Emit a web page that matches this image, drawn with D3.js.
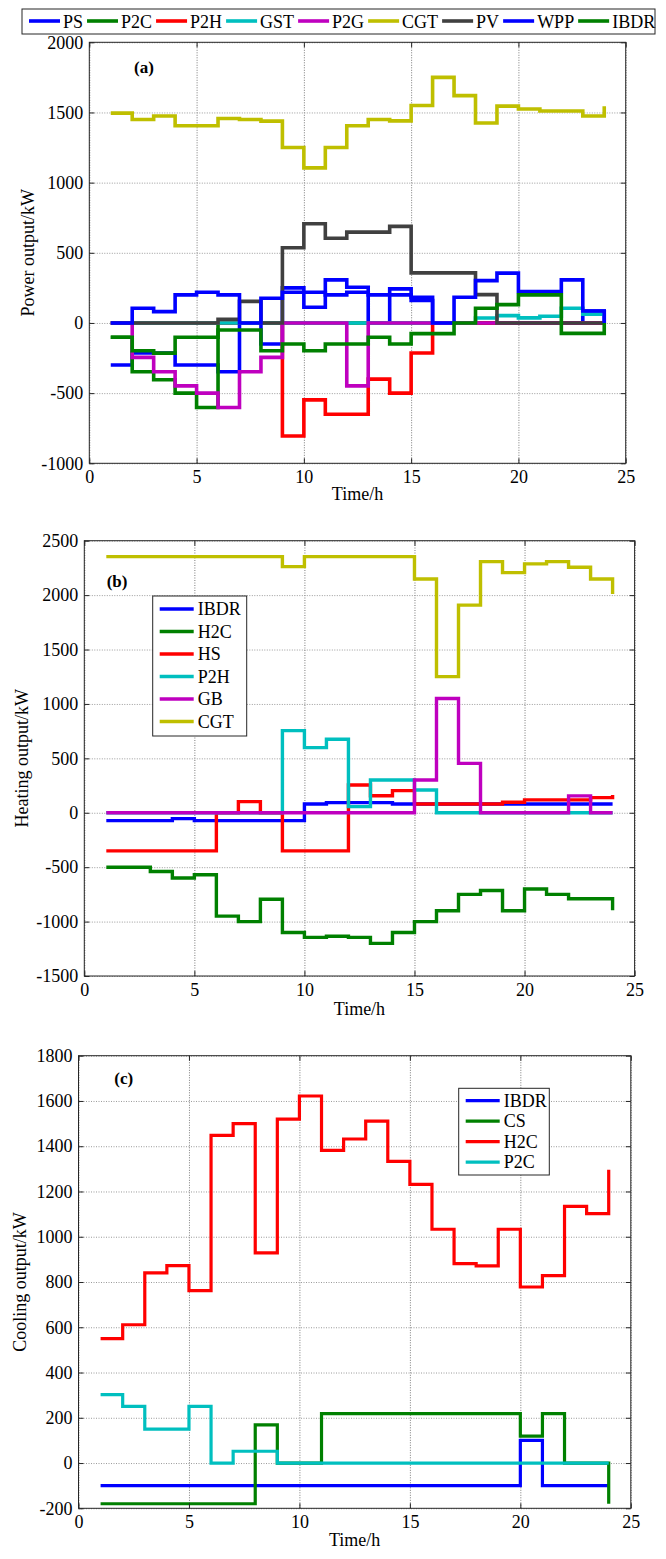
<!DOCTYPE html>
<html>
<head>
<meta charset="utf-8">
<script src="https://cdnjs.cloudflare.com/ajax/libs/d3/7.8.5/d3.min.js"></script>
<style>
body { margin: 0; background: #fff; }
svg { display: block; font-family: "Liberation Serif", "Times New Roman", serif; }
</style>
</head>
<body>
<svg id="chart" width="666" height="1559"></svg>
<script>
// DATA

var hours = [1, 2, 3, 4, 5, 6, 7, 8, 9, 10, 11, 12, 13, 14, 15, 16, 17, 18, 19, 20, 21, 22, 23, 24];
var xTicks = [0, 5, 10, 15, 20, 25];

// (a) power
var psA   = [-300, -214, -214, -300, -300, -348, 0, -150, 250, 112, 307, 255, 0, 243, 160, 0, 0, 0, 0, 0, 0, 0, 85, 0];
var p2cA  = [-102, -348, -405, -500, -602, 0, 0, 0, 0, 0, 0, 0, 0, 0, 0, 0, 0, 0, 0, 0, 0, 0, 0, 0];
var p2hA  = [0, 0, 0, 0, 0, 0, 0, 0, -805, -548, -650, -650, -400, -500, -214, 0, 0, 0, 0, 0, 0, 0, 0, 0];
var gstA  = [0, 0, 0, 0, 0, 0, 0, 0, 0, 0, 0, 0, 0, 0, 0, 0, 0, 35, 52, 36, 48, 105, 62, 62];
var p2gA  = [0, -245, -348, -448, -500, -602, -348, -245, 0, 0, 0, -448, 0, 0, 0, 0, 0, 0, 0, 0, 0, 0, 0, 0];
var cgtA  = [1495, 1450, 1475, 1405, 1405, 1457, 1450, 1438, 1250, 1105, 1250, 1405, 1450, 1440, 1550, 1750, 1620, 1425, 1545, 1525, 1510, 1510, 1475, 1545];
var pvA   = [0, 0, 0, 0, 0, 26, 154, 0, 536, 707, 604, 647, 647, 688, 357, 357, 357, 202, 0, 0, 0, 0, 0, 0];
var wppA  = [0, 105, 81, 200, 219, 200, 0, 176, 219, 219, 200, 219, 200, 200, 183, 0, 183, 302, 355, 224, 224, 307, 85, 0];
var ibdrA = [-102, -198, -215, -102, -102, -50, -50, -198, -150, -198, -150, -150, -102, -150, -76, -76, 0, 105, 131, 200, 200, -74, -74, 0];
var yTicksA = [-1000, -500, 0, 500, 1000, 1500, 2000];

// (b) heating
var ibdrB = [-72, -72, -72, -54, -72, -72, -72, -72, -72, 81, 93, 93, 93, 81, 81, 81, 81, 81, 81, 81, 81, 81, 81, 81];
var h2cB  = [-500, -500, -540, -600, -570, -950, -1000, -795, -1100, -1145, -1135, -1145, -1200, -1100, -1000, -900, -750, -715, -900, -700, -750, -790, -790, -895];
var hsB   = [-350, -350, -350, -350, -350, 0, 102, 0, -350, -350, -350, 255, 157, 203, 81, 81, 81, 81, 96, 118, 118, 118, 139, 163];
var p2hB  = [0, 0, 0, 0, 0, 0, 0, 0, 755, 599, 675, 56, 301, 301, 209, 0, 0, 0, 0, 0, 0, 0, 0, 0];
var gbB   = [0, 0, 0, 0, 0, 0, 0, 0, 0, 0, 0, 0, 0, 0, 301, 1050, 454, 0, 0, 0, 0, 155, 0, 0];
var cgtB  = [2354, 2354, 2354, 2354, 2354, 2354, 2354, 2354, 2262, 2354, 2354, 2354, 2354, 2354, 2148, 1251, 1908, 2308, 2207, 2287, 2308, 2256, 2148, 2011];
var yTicksB = [-1500, -1000, -500, 0, 500, 1000, 1500, 2000, 2500];

// (c) cooling
var ibdrC = [-100, -100, -100, -100, -100, -100, -100, -100, -100, -100, -100, -100, -100, -100, -100, -100, -100, -100, -100, 100, -100, -100, -100, -100];
var csC   = [-180, -180, -180, -180, -180, -180, -180, 169, 0, 0, 218, 218, 218, 218, 218, 218, 218, 218, 218, 119, 218, 0, 0, -180];
var h2cC  = [550, 611, 840, 872, 762, 1448, 1500, 929, 1520, 1622, 1382, 1432, 1511, 1333, 1231, 1033, 881, 871, 1033, 778, 828, 1134, 1102, 1296];
var p2cC  = [302, 250, 150, 150, 250, 0, 52, 52, 0, 0, 0, 0, 0, 0, 0, 0, 0, 0, 0, 0, 0, 0, 0, 0];
var yTicksC = [-200, 0, 200, 400, 600, 800, 1000, 1200, 1400, 1600, 1800];

var BLUE = '#0000ff', GREEN = '#008000', RED = '#ff0000', CYAN = '#00bfbf',
    MAGENTA = '#bf00bf', YELLOW = '#bfbf00', GRAY = '#404040';

var svg = d3.select('#chart');

// DRAW ONE PANEL

function drawPanel(p) {
  var x = d3.scaleLinear().domain([0, 25]).range([p.left, p.right]);
  var y = d3.scaleLinear().domain(p.yDomain).range([p.bottom, p.top]);
  var w = p.right - p.left;
  var h = p.bottom - p.top;
  var g = svg.append('g');

  // dotted grid
  g.append('g')
    .attr('transform', 'translate(0,' + p.bottom + ')')
    .call(d3.axisBottom(x).tickValues(xTicks).tickSize(-h).tickFormat(''))
    .call(function(s) { s.select('.domain').remove(); })
    .selectAll('line')
    .attr('stroke', '#7a7a7a')
    .attr('stroke-dasharray', '1,1.5');
  g.append('g')
    .attr('transform', 'translate(' + p.left + ',0)')
    .call(d3.axisLeft(y).tickValues(p.yTicks).tickSize(-w).tickFormat(''))
    .call(function(s) { s.select('.domain').remove(); })
    .selectAll('line')
    .attr('stroke', '#9a9a9a')
    .attr('stroke-dasharray', '1,1.5');

  // stairs lines
  var line = d3.line()
    .curve(d3.curveStepAfter)
    .x(function(d) { return x(d[0]); })
    .y(function(d) { return y(d[1]); });

  p.series.forEach(function(s) {
    g.append('path')
      .datum(hours.map(function(hr, i) { return [hr, s.values[i]]; }))
      .attr('d', line)
      .attr('fill', 'none')
      .attr('stroke', s.color)
      .attr('stroke-width', p.lw)
      .attr('stroke-linejoin', 'miter');
  });

  // box
  g.append('rect')
    .attr('x', p.left).attr('y', p.top)
    .attr('width', w).attr('height', h)
    .attr('fill', 'none')
    .attr('stroke', '#262626')
    .attr('stroke-width', 1);

  // axes, ticks pointing in
  function styleAxis(s) {
    s.select('.domain').remove();
    s.attr('font-family', null).attr('font-size', 18);
    s.selectAll('line').attr('stroke', '#262626');
    s.selectAll('text').attr('fill', '#000');
  }
  var fmt = function(d) { return String(d); };

  g.append('g')
    .attr('transform', 'translate(0,' + p.bottom + ')')
    .call(d3.axisBottom(x).tickValues(xTicks).tickSize(-5).tickPadding(7).tickFormat(fmt))
    .call(styleAxis);
  g.append('g')
    .attr('transform', 'translate(0,' + p.top + ')')
    .call(d3.axisTop(x).tickValues(xTicks).tickSize(-5).tickFormat(''))
    .call(styleAxis);
  g.append('g')
    .attr('transform', 'translate(' + p.left + ',0)')
    .call(d3.axisLeft(y).tickValues(p.yTicks).tickSize(-5).tickPadding(6).tickFormat(fmt))
    .call(styleAxis);
  g.append('g')
    .attr('transform', 'translate(' + p.right + ',0)')
    .call(d3.axisRight(y).tickValues(p.yTicks).tickSize(-5).tickFormat(''))
    .call(styleAxis);

  // labels
  g.append('text')
    .attr('x', (p.left + p.right) / 2)
    .attr('y', p.xlabelY)
    .attr('text-anchor', 'middle')
    .attr('font-size', 18)
    .text('Time/h');
  g.append('text')
    .attr('transform', 'translate(' + p.ylabelX + ',' + (p.top + p.bottom) / 2 + ') rotate(-90)')
    .attr('text-anchor', 'middle')
    .attr('font-size', 18)
    .text(p.ylabel);
  g.append('text')
    .attr('x', p.tag[0])
    .attr('y', p.tag[1])
    .attr('font-size', 17)
    .attr('font-weight', 'bold')
    .text(p.tag[2]);

  // vertical legend box
  if (p.legend) {
    var L = p.legend;
    g.append('rect')
      .attr('x', L.x).attr('y', L.y)
      .attr('width', L.w).attr('height', L.h)
      .attr('fill', '#fff')
      .attr('stroke', '#262626')
      .attr('stroke-width', 1);
    p.series.forEach(function(s, i) {
      var cy = L.y + L.first + i * L.step;
      g.append('line')
        .attr('x1', L.x + 7).attr('x2', L.x + 41)
        .attr('y1', cy).attr('y2', cy)
        .attr('stroke', s.color)
        .attr('stroke-width', p.lw);
      g.append('text')
        .attr('x', L.x + 45)
        .attr('y', cy + 6)
        .attr('font-size', 18)
        .text(s.name);
    });
  }
}

// PANEL (a)

var seriesA = [
  { name: 'PS', color: BLUE, values: psA },
  { name: 'P2C', color: GREEN, values: p2cA },
  { name: 'P2H', color: RED, values: p2hA },
  { name: 'GST', color: CYAN, values: gstA },
  { name: 'P2G', color: MAGENTA, values: p2gA },
  { name: 'CGT', color: YELLOW, values: cgtA },
  { name: 'PV', color: GRAY, values: pvA },
  { name: 'WPP', color: BLUE, values: wppA },
  { name: 'IBDR', color: GREEN, values: ibdrA }
];

drawPanel({
  left: 89.3, right: 625.7, top: 42.3, bottom: 463.3,
  yDomain: [-1000, 2000], yTicks: yTicksA,
  lw: 3.6, xlabelY: 500, ylabelX: 34,
  ylabel: 'Power output/kW', tag: [134, 73, '(a)'],
  series: seriesA
});

// horizontal legend on top
var legA = svg.append('g');
legA.append('rect')
  .attr('x', 22).attr('y', 9)
  .attr('width', 633).attr('height', 25)
  .attr('fill', '#fff')
  .attr('stroke', '#262626')
  .attr('stroke-width', 1);
var lx = 29;
seriesA.forEach(function(s) {
  legA.append('line')
    .attr('x1', lx).attr('x2', lx + 31)
    .attr('y1', 21).attr('y2', 21)
    .attr('stroke', s.color)
    .attr('stroke-width', 3.6);
  var t = legA.append('text')
    .attr('x', lx + 34)
    .attr('y', 28)
    .attr('font-size', 18)
    .text(s.name);
  lx += 34 + t.node().getComputedTextLength() + 4;
});

// PANEL (b)

drawPanel({
  left: 84.3, right: 634.6, top: 540.7, bottom: 976,
  yDomain: [-1500, 2500], yTicks: yTicksB,
  lw: 3.4, xlabelY: 1015, ylabelX: 28,
  ylabel: 'Heating output/kW', tag: [106.7, 587, '(b)'],
  series: [
    { name: 'IBDR', color: BLUE, values: ibdrB },
    { name: 'H2C', color: GREEN, values: h2cB },
    { name: 'HS', color: RED, values: hsB },
    { name: 'P2H', color: CYAN, values: p2hB },
    { name: 'GB', color: MAGENTA, values: gbB },
    { name: 'CGT', color: YELLOW, values: cgtB }
  ],
  legend: { x: 152.7, y: 596, w: 94, h: 140, first: 13, step: 22.5 }
});

// PANEL (c)

drawPanel({
  left: 78.5, right: 630.8, top: 1055.7, bottom: 1508.3,
  yDomain: [-200, 1800], yTicks: yTicksC,
  lw: 3.2, xlabelY: 1546, ylabelX: 26,
  ylabel: 'Cooling output/kW', tag: [114.3, 1084, '(c)'],
  series: [
    { name: 'IBDR', color: BLUE, values: ibdrC },
    { name: 'CS', color: GREEN, values: csC },
    { name: 'H2C', color: RED, values: h2cC },
    { name: 'P2C', color: CYAN, values: p2cC }
  ],
  legend: { x: 458.7, y: 1088.3, w: 90.6, h: 86.7, first: 12.4, step: 20.5 }
});
</script>
</body>
</html>
